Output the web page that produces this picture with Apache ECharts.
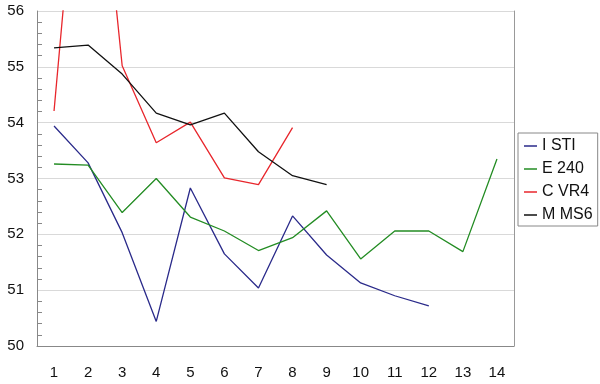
<!DOCTYPE html>
<html><head><meta charset="utf-8">
<script src="https://cdn.jsdelivr.net/npm/echarts@6/dist/echarts.min.js"></script>
<style>html,body{margin:0;padding:0;background:#fff}#c{width:600px;height:384px}</style>
</head><body><div id="c"></div>
<script>
const categories = ['1','2','3','4','5','6','7','8','9','10','11','12','13','14'];
const seriesNames = ['I STI','E 240','C VR4','M MS6'];
const iSti = [53.94,53.28,52.03,50.44,52.83,51.65,51.04,52.33,51.63,51.13,50.90,50.72,null,null];
const e240 = [53.26,53.24,52.39,53.00,52.31,52.06,51.71,51.94,52.42,51.56,52.06,52.06,51.69,53.35];
const cVr4 = [54.21,61.0,55.02,53.64,54.01,53.01,52.89,53.91,null,null,null,null,null,null];
const mMs6 = [55.34,55.39,54.87,54.17,53.96,54.17,53.48,53.05,52.89,null,null,null,null,null];
const colors = ['#2a2a8a','#238c23','#e8262c','#111111'];
const font = 'Liberation Sans, Arial, sans-serif';
const chart = echarts.init(document.getElementById('c'));
const mk = (name, data, i) => ({
  name, type:'line', data, showSymbol:false, symbol:'none', clip:true,
  lineStyle:{color:colors[i], width:1.3}, itemStyle:{color:colors[i]}, connectNulls:false
});
chart.setOption({
  animation:false,
  grid:{left:37,right:86,top:11,bottom:38},
  legend:{
    orient:'vertical', left:518, top:133, data:seriesNames,
    borderColor:'#888', borderWidth:1, padding:[5,5,3,6], itemGap:7,
    icon:'rect', itemWidth:13, itemHeight:1.5,
    textStyle:{fontFamily:font, fontSize:16, lineHeight:16, color:'#111'}
  },
  xAxis:{
    type:'category', data:categories, boundaryGap:true,
    axisLine:{lineStyle:{color:'#888'}},
    axisTick:{inside:true, length:5, lineStyle:{color:'#888'}},
    axisLabel:{fontFamily:font, fontSize:15, color:'#111', margin:19}
  },
  yAxis:[{
    type:'value', min:50, max:56, interval:1,
    axisLine:{show:true, lineStyle:{color:'#888'}},
    axisTick:{show:false},
    minorTick:{show:true, splitNumber:5, length:-5, lineStyle:{color:'#888'}},
    splitLine:{lineStyle:{color:'#d9d9d9'}},
    axisLabel:{fontFamily:font, fontSize:15, color:'#111', margin:13}
  },{
    type:'value', min:50, max:56, position:'right',
    axisLine:{show:true, lineStyle:{color:'#999'}},
    axisTick:{show:false}, axisLabel:{show:false}, splitLine:{show:false}
  }],
  series:[mk(seriesNames[0], iSti, 0), mk(seriesNames[1], e240, 1), mk(seriesNames[2], cVr4, 2), mk(seriesNames[3], mMs6, 3)]
});
</script></body></html>
